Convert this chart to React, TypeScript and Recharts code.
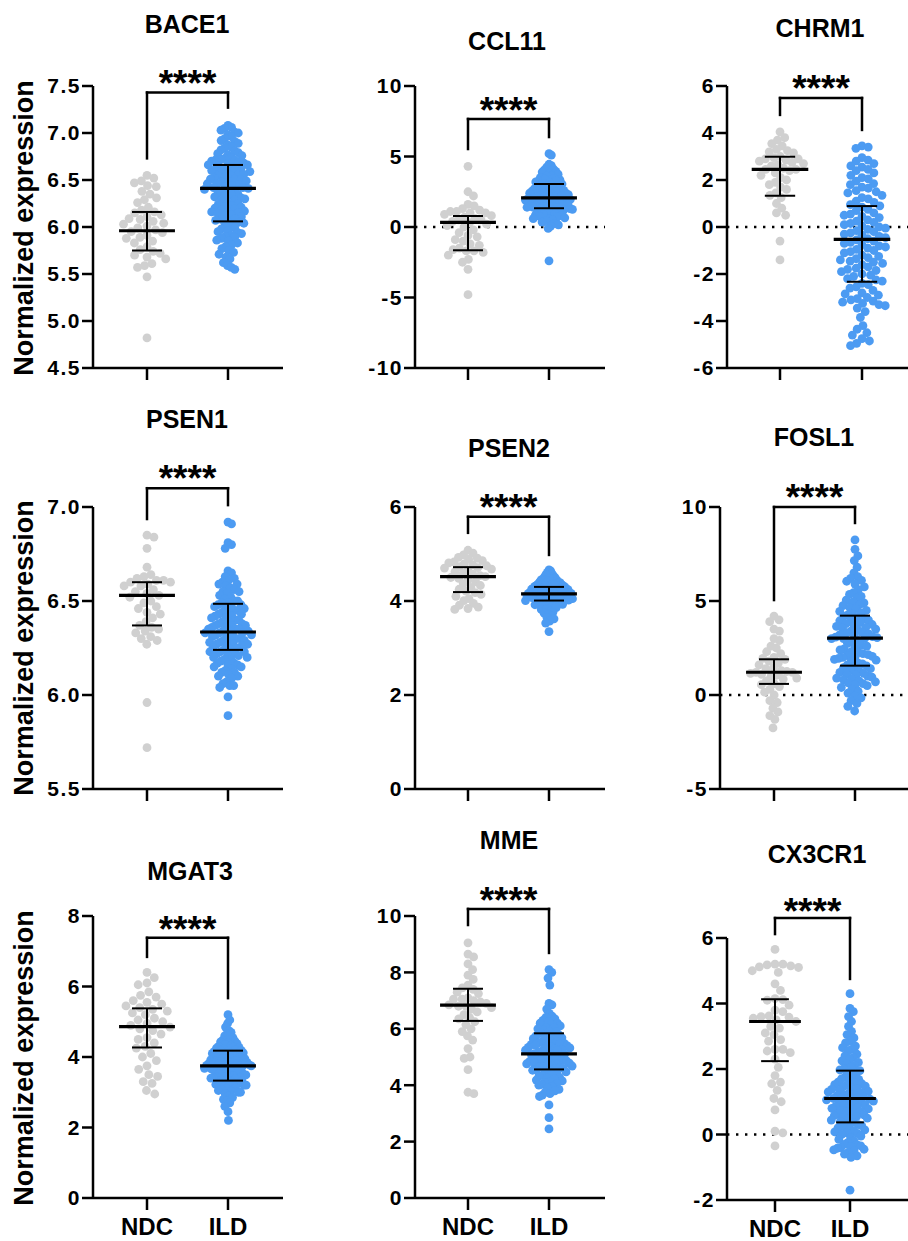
import React from "react";
import { ScatterChart, Scatter, XAxis, YAxis, ReferenceLine } from "recharts";

const FONT = "'Liberation Sans', Arial, Helvetica, sans-serif";
const GREY = "#d0d0d0";
const BLUE = "#4c9bf2";

const groups = ["NDC", "ILD"];

// ---- values ----
const bace1Ndc = [6.55, 6.52, 6.49, 6.47, 6.44, 6.43, 6.38, 6.35, 6.31, 6.29, 6.26, 6.21, 6.18, 6.16, 6.15, 6.13, 6.11, 6.09, 6.08, 6.06, 6.04, 6.03, 6.01, 5.99, 5.97, 5.95, 5.94, 5.91, 5.89, 5.88, 5.85, 5.83, 5.79, 5.76, 5.74, 5.72, 5.70, 5.68, 5.66, 5.61, 5.59, 5.57, 5.47, 4.82];
const bace1Ild = [7.08, 7.06, 7.05, 7.03, 7.01, 7.0, 6.98, 6.96, 6.94, 6.92, 6.91, 6.89, 6.87, 6.85, 6.84, 6.82, 6.81, 6.79, 6.78, 6.77, 6.76, 6.74, 6.73, 6.72, 6.71, 6.71, 6.7, 6.69, 6.68, 6.67, 6.66, 6.66, 6.65, 6.64, 6.63, 6.62, 6.61, 6.61, 6.6, 6.59, 6.58, 6.57, 6.56, 6.56, 6.55, 6.54, 6.53, 6.52, 6.51, 6.51, 6.5, 6.49, 6.48, 6.47, 6.46, 6.46, 6.45, 6.44, 6.43, 6.42, 6.42, 6.41, 6.4, 6.39, 6.38, 6.37, 6.36, 6.35, 6.34, 6.33, 6.32, 6.31, 6.3, 6.29, 6.28, 6.26, 6.25, 6.24, 6.23, 6.22, 6.21, 6.2, 6.19, 6.18, 6.17, 6.16, 6.16, 6.15, 6.14, 6.13, 6.12, 6.11, 6.09, 6.08, 6.07, 6.06, 6.05, 6.04, 6.02, 6.01, 5.99, 5.98, 5.96, 5.95, 5.94, 5.93, 5.91, 5.9, 5.89, 5.88, 5.86, 5.85, 5.83, 5.81, 5.79, 5.77, 5.75, 5.73, 5.71, 5.68, 5.66, 5.62, 5.59, 5.57, 5.55];

const ccl11Ndc = [4.3, 2.5, 2.2, 1.6, 1.5, 1.3, 1.2, 1.1, 1.1, 1.0, 1.0, 0.9, 0.8, 0.7, 0.6, 0.5, 0.5, 0.4, 0.3, 0.2, 0.1, 0.0, -0.2, -0.4, -0.6, -0.7, -0.9, -1.0, -1.2, -1.3, -1.5, -1.6, -1.7, -1.7, -1.8, -2.0, -2.3, -2.5, -3.0, -4.8];
const ccl11Ild = [5.2, 5.1, 4.45, 4.35, 4.25, 4.1, 4.05, 3.95, 3.9, 3.8, 3.75, 3.65, 3.6, 3.5, 3.45, 3.4, 3.35, 3.3, 3.25, 3.2, 3.15, 3.1, 3.05, 3.0, 2.95, 2.9, 2.85, 2.8, 2.75, 2.7, 2.7, 2.65, 2.6, 2.55, 2.5, 2.5, 2.45, 2.4, 2.4, 2.35, 2.3, 2.3, 2.25, 2.2, 2.2, 2.15, 2.1, 2.1, 2.05, 2.0, 1.95, 1.95, 1.9, 1.9, 1.85, 1.8, 1.8, 1.75, 1.7, 1.7, 1.65, 1.6, 1.6, 1.55, 1.5, 1.5, 1.45, 1.45, 1.4, 1.4, 1.35, 1.3, 1.3, 1.25, 1.2, 1.2, 1.15, 1.1, 1.05, 1.0, 0.95, 0.9, 0.85, 0.8, 0.75, 0.7, 0.65, 0.6, 0.55, 0.5, 0.45, 0.35, 0.25, 0.15, 0.05, -0.1, -2.4];

const chrm1Ndc = [4.05, 3.8, 3.7, 3.55, 3.45, 3.3, 3.25, 3.2, 3.15, 3.0, 2.95, 2.9, 2.9, 2.85, 2.8, 2.75, 2.7, 2.65, 2.6, 2.5, 2.45, 2.45, 2.4, 2.3, 2.2, 2.1, 2.0, 1.9, 1.8, 1.7, 1.6, 1.45, 1.35, 1.25, 1.0, 0.8, 0.6, 0.5, -0.6, -1.4];
const chrm1Ild = [3.45, 3.4, 3.35, 2.95, 2.85, 2.8, 2.7, 2.6, 2.55, 2.45, 2.4, 2.3, 2.2, 2.1, 2.05, 1.95, 1.85, 1.8, 1.7, 1.65, 1.55, 1.5, 1.45, 1.35, 1.25, 1.2, 1.1, 1.05, 0.95, 0.9, 0.85, 0.75, 0.7, 0.6, 0.55, 0.5, 0.45, 0.4, 0.3, 0.25, 0.2, 0.15, 0.1, 0.05, 0.0, -0.05, -0.1, -0.15, -0.2, -0.25, -0.3, -0.35, -0.4, -0.45, -0.5, -0.55, -0.6, -0.65, -0.7, -0.75, -0.8, -0.85, -0.9, -0.95, -1.0, -1.05, -1.1, -1.2, -1.25, -1.3, -1.35, -1.4, -1.45, -1.5, -1.55, -1.6, -1.7, -1.75, -1.8, -1.85, -1.9, -2.0, -2.05, -2.1, -2.2, -2.25, -2.3, -2.4, -2.45, -2.55, -2.6, -2.7, -2.8, -2.85, -2.9, -3.0, -3.05, -3.1, -3.15, -3.2, -3.25, -3.3, -3.35, -3.45, -3.6, -3.85, -4.2, -4.35, -4.5, -4.6, -4.75, -4.85, -4.95, -5.05];

const psen1Ndc = [6.85, 6.84, 6.78, 6.68, 6.64, 6.63, 6.62, 6.61, 6.61, 6.6, 6.6, 6.59, 6.58, 6.58, 6.56, 6.55, 6.54, 6.53, 6.52, 6.5, 6.49, 6.47, 6.46, 6.44, 6.43, 6.41, 6.39, 6.37, 6.36, 6.35, 6.34, 6.33, 6.31, 6.3, 6.29, 6.27, 5.96, 5.72];
const psen1Ild = [6.92, 6.91, 6.81, 6.8, 6.78, 6.66, 6.65, 6.63, 6.62, 6.61, 6.6, 6.59, 6.59, 6.58, 6.57, 6.56, 6.55, 6.55, 6.54, 6.53, 6.52, 6.51, 6.5, 6.5, 6.49, 6.49, 6.48, 6.48, 6.47, 6.47, 6.46, 6.46, 6.45, 6.45, 6.44, 6.44, 6.43, 6.43, 6.42, 6.42, 6.41, 6.41, 6.4, 6.4, 6.39, 6.39, 6.38, 6.38, 6.37, 6.37, 6.37, 6.36, 6.36, 6.35, 6.35, 6.35, 6.34, 6.34, 6.34, 6.33, 6.33, 6.33, 6.32, 6.32, 6.32, 6.31, 6.31, 6.3, 6.3, 6.29, 6.29, 6.29, 6.28, 6.28, 6.27, 6.27, 6.27, 6.26, 6.26, 6.25, 6.25, 6.24, 6.24, 6.23, 6.23, 6.23, 6.22, 6.22, 6.21, 6.21, 6.2, 6.2, 6.19, 6.19, 6.18, 6.17, 6.17, 6.16, 6.16, 6.15, 6.15, 6.14, 6.13, 6.12, 6.12, 6.11, 6.1, 6.1, 6.09, 6.07, 6.06, 6.05, 6.05, 6.04, 5.99, 5.89];

const psen2Ndc = [5.08, 5.02, 4.98, 4.93, 4.91, 4.89, 4.86, 4.83, 4.81, 4.79, 4.77, 4.75, 4.73, 4.71, 4.7, 4.68, 4.65, 4.62, 4.59, 4.57, 4.54, 4.52, 4.5, 4.48, 4.45, 4.41, 4.37, 4.33, 4.29, 4.25, 4.21, 4.18, 4.14, 4.1, 4.05, 4.01, 3.95, 3.91, 3.87, 3.84, 3.82];
const psen2Ild = [4.66, 4.64, 4.61, 4.58, 4.56, 4.53, 4.51, 4.49, 4.48, 4.46, 4.45, 4.44, 4.42, 4.41, 4.4, 4.39, 4.39, 4.38, 4.37, 4.36, 4.35, 4.34, 4.33, 4.33, 4.32, 4.31, 4.3, 4.29, 4.29, 4.28, 4.27, 4.27, 4.26, 4.25, 4.24, 4.24, 4.23, 4.22, 4.22, 4.21, 4.2, 4.19, 4.19, 4.18, 4.18, 4.17, 4.17, 4.16, 4.16, 4.15, 4.14, 4.14, 4.13, 4.12, 4.12, 4.11, 4.1, 4.09, 4.09, 4.08, 4.08, 4.07, 4.07, 4.06, 4.05, 4.05, 4.04, 4.03, 4.03, 4.02, 4.02, 4.01, 4.0, 3.99, 3.98, 3.97, 3.96, 3.95, 3.94, 3.93, 3.92, 3.91, 3.9, 3.88, 3.86, 3.84, 3.82, 3.81, 3.78, 3.76, 3.74, 3.71, 3.68, 3.65, 3.62, 3.57, 3.53, 3.35];

const fosl1Ndc = [4.2, 4.0, 3.9, 3.5, 3.4, 3.0, 2.9, 2.6, 2.5, 2.3, 2.2, 2.0, 1.95, 1.9, 1.8, 1.7, 1.6, 1.45, 1.4, 1.3, 1.25, 1.2, 1.2, 1.15, 1.1, 1.05, 1.0, 0.9, 0.85, 0.75, 0.6, 0.55, 0.45, 0.3, 0.15, 0.0, -0.3, -0.4, -0.7, -0.9, -1.1, -1.3, -1.75];
const fosl1Ild = [8.25, 7.75, 7.4, 7.15, 6.8, 6.5, 6.3, 6.2, 6.1, 6.05, 5.9, 5.75, 5.6, 5.45, 5.35, 5.25, 5.15, 5.05, 4.95, 4.9, 4.8, 4.75, 4.65, 4.6, 4.5, 4.45, 4.35, 4.3, 4.25, 4.2, 4.1, 4.05, 3.98, 3.95, 3.9, 3.85, 3.8, 3.75, 3.7, 3.65, 3.6, 3.55, 3.5, 3.45, 3.4, 3.35, 3.3, 3.25, 3.2, 3.15, 3.1, 3.08, 3.05, 3.02, 3.0, 3.0, 2.9, 2.8, 2.75, 2.65, 2.6, 2.5, 2.45, 2.4, 2.3, 2.25, 2.2, 2.15, 2.1, 2.05, 2.0, 2.0, 1.95, 1.9, 1.85, 1.8, 1.7, 1.65, 1.6, 1.55, 1.5, 1.45, 1.4, 1.3, 1.25, 1.2, 1.15, 1.1, 1.05, 1.0, 0.95, 0.9, 0.85, 0.8, 0.75, 0.7, 0.65, 0.6, 0.55, 0.5, 0.4, 0.3, 0.2, 0.1, -0.05, -0.15, -0.3, -0.45, -0.6, -0.85];

const mgat3Ndc = [6.4, 6.25, 6.1, 6.05, 5.85, 5.75, 5.7, 5.6, 5.55, 5.5, 5.45, 5.4, 5.35, 5.3, 5.25, 5.2, 5.1, 5.05, 5.0, 4.95, 4.9, 4.85, 4.8, 4.75, 4.65, 4.55, 4.5, 4.4, 4.3, 4.25, 4.1, 4.0, 3.9, 3.75, 3.65, 3.5, 3.45, 3.3, 3.25, 3.05, 2.95];
const mgat3Ild = [5.2, 5.05, 4.95, 4.85, 4.75, 4.7, 4.65, 4.6, 4.55, 4.5, 4.48, 4.45, 4.43, 4.4, 4.38, 4.35, 4.33, 4.3, 4.28, 4.27, 4.25, 4.23, 4.22, 4.2, 4.19, 4.17, 4.16, 4.14, 4.12, 4.1, 4.08, 4.07, 4.05, 4.04, 4.02, 4.0, 3.99, 3.98, 3.96, 3.95, 3.93, 3.92, 3.9, 3.89, 3.88, 3.86, 3.85, 3.84, 3.83, 3.82, 3.81, 3.8, 3.79, 3.78, 3.77, 3.76, 3.75, 3.74, 3.73, 3.72, 3.7, 3.69, 3.68, 3.66, 3.65, 3.63, 3.62, 3.6, 3.59, 3.57, 3.56, 3.54, 3.52, 3.5, 3.49, 3.47, 3.46, 3.44, 3.43, 3.42, 3.41, 3.4, 3.38, 3.36, 3.34, 3.32, 3.3, 3.28, 3.26, 3.24, 3.22, 3.2, 3.2, 3.2, 3.18, 3.15, 3.12, 3.1, 3.08, 3.05, 3.03, 3.0, 3.0, 2.95, 2.9, 2.85, 2.8, 2.75, 2.7, 2.6, 2.45, 2.2];

const mmeNdc = [9.05, 8.65, 8.55, 8.3, 8.1, 7.9, 7.75, 7.55, 7.45, 7.4, 7.3, 7.25, 7.1, 7.05, 7.05, 7.0, 6.95, 6.9, 6.85, 6.8, 6.8, 6.75, 6.7, 6.6, 6.5, 6.4, 6.35, 6.25, 6.15, 6.0, 5.9, 5.75, 5.6, 5.3, 5.0, 4.95, 4.55, 3.75, 3.7];
const mmeIld = [8.1, 8.0, 7.8, 7.55, 6.9, 6.85, 6.7, 6.55, 6.45, 6.4, 6.35, 6.3, 6.25, 6.2, 6.2, 6.15, 6.1, 6.05, 6.05, 6.0, 5.95, 5.9, 5.88, 5.85, 5.8, 5.78, 5.75, 5.7, 5.68, 5.65, 5.62, 5.6, 5.58, 5.55, 5.52, 5.5, 5.48, 5.46, 5.44, 5.42, 5.4, 5.38, 5.36, 5.34, 5.32, 5.3, 5.28, 5.26, 5.24, 5.22, 5.2, 5.18, 5.15, 5.12, 5.1, 5.08, 5.05, 5.02, 4.98, 4.96, 4.94, 4.92, 4.9, 4.88, 4.86, 4.84, 4.82, 4.8, 4.78, 4.76, 4.74, 4.72, 4.7, 4.68, 4.66, 4.64, 4.62, 4.6, 4.58, 4.55, 4.53, 4.5, 4.47, 4.44, 4.41, 4.38, 4.35, 4.32, 4.28, 4.25, 4.22, 4.18, 4.15, 4.12, 4.09, 4.06, 4.03, 4.0, 3.95, 3.9, 3.85, 3.8, 3.75, 3.7, 3.65, 3.6, 3.3, 2.85, 2.45];

const cx3cr1Ndc = [5.65, 5.2, 5.2, 5.18, 5.15, 5.12, 5.1, 5.0, 4.95, 4.6, 4.4, 4.15, 4.12, 4.1, 3.95, 3.8, 3.75, 3.62, 3.6, 3.58, 3.55, 3.5, 3.45, 3.3, 3.25, 3.1, 3.05, 2.9, 2.85, 2.6, 2.6, 2.55, 2.5, 2.3, 2.05, 1.8, 1.6, 1.55, 1.35, 1.1, 1.0, 0.75, 0.1, 0.05, -0.35];
const cx3cr1Ild = [4.3, 3.85, 3.75, 3.6, 3.45, 3.3, 3.15, 3.05, 2.95, 2.85, 2.8, 2.7, 2.65, 2.6, 2.55, 2.45, 2.4, 2.35, 2.3, 2.25, 2.2, 2.15, 2.1, 2.05, 2.0, 1.97, 1.95, 1.9, 1.85, 1.8, 1.75, 1.7, 1.68, 1.65, 1.6, 1.58, 1.55, 1.52, 1.5, 1.48, 1.45, 1.42, 1.4, 1.38, 1.35, 1.32, 1.3, 1.28, 1.25, 1.22, 1.2, 1.18, 1.15, 1.12, 1.1, 1.1, 1.08, 1.06, 1.04, 1.02, 1.0, 0.98, 0.95, 0.92, 0.9, 0.88, 0.85, 0.82, 0.8, 0.78, 0.75, 0.72, 0.7, 0.68, 0.65, 0.62, 0.6, 0.58, 0.55, 0.52, 0.5, 0.47, 0.44, 0.4, 0.37, 0.34, 0.3, 0.27, 0.24, 0.2, 0.17, 0.14, 0.1, 0.08, 0.05, 0.03, 0.0, -0.05, -0.1, -0.15, -0.2, -0.25, -0.3, -0.32, -0.35, -0.38, -0.4, -0.42, -0.45, -0.47, -0.5, -0.55, -0.6, -0.65, -0.7, -1.7];

// median with interquartile range: [q1, median, q3]
const bace1Stats = [[5.75, 5.96, 6.16], [6.06, 6.41, 6.66]];
const ccl11Stats = [[-1.65, 0.33, 0.78], [1.33, 2.07, 3.05]];
const chrm1Stats = [[1.33, 2.45, 2.99], [-2.33, -0.53, 0.89]];
const psen1Stats = [[6.37, 6.53, 6.6], [6.24, 6.335, 6.485]];
const psen2Stats = [[4.19, 4.52, 4.72], [4.01, 4.15, 4.3]];
const fosl1Stats = [[0.59, 1.21, 1.9], [1.56, 3.03, 4.22]];
const mgat3Stats = [[4.27, 4.86, 5.38], [3.33, 3.75, 4.18]];
const mmeStats = [[6.28, 6.84, 7.42], [4.56, 5.11, 5.84]];
const cx3cr1Stats = [[2.24, 3.45, 4.13], [0.37, 1.1, 1.95]];

const bace1Ticks = [4.5, 5, 5.5, 6, 6.5, 7, 7.5];
const ccl11Ticks = [-10, -5, 0, 5, 10];
const chrm1Ticks = [-6, -4, -2, 0, 2, 4, 6];
const psen1Ticks = [5.5, 6, 6.5, 7];
const psen2Ticks = [0, 2, 4, 6];
const fosl1Ticks = [-5, 0, 5, 10];
const mgat3Ticks = [0, 2, 4, 6, 8];
const mmeTicks = [0, 2, 4, 6, 8, 10];
const cx3cr1Ticks = [-2, 0, 2, 4, 6];

// ---- layout ----
// box: pixel frame of the plot area; bracket: [top, left leg end, right leg end] in data units
const panels = [
  { gene: "BACE1", ndc: bace1Ndc, ild: bace1Ild, stats: bace1Stats, ticks: bace1Ticks, dec: 1, zero: false, bracket: [7.43, 6.73, 7.27], box: { left: 93, top: 86, w: 190, h: 282, a: 54, b: 135 }, title: [187, 33], starGap: 18, showX: false },
  { gene: "CCL11", ndc: ccl11Ndc, ild: ccl11Ild, stats: ccl11Stats, ticks: ccl11Ticks, dec: 0, zero: true, bracket: [7.66, 5.53, 6.38], box: { left: 415, top: 86, w: 190, h: 282, a: 53, b: 134 }, title: [507, 50], starGap: 17, showX: false },
  { gene: "CHRM1", ndc: chrm1Ndc, ild: chrm1Ild, stats: chrm1Stats, ticks: chrm1Ticks, dec: 0, zero: true, bracket: [5.49, 4.77, 4.13], box: { left: 727, top: 86, w: 190, h: 282, a: 53, b: 135 }, title: [820, 37], starGap: 18, showX: false },
  { gene: "PSEN1", ndc: psen1Ndc, ild: psen1Ild, stats: psen1Stats, ticks: psen1Ticks, dec: 1, zero: false, bracket: [7.1, 6.936, 7.01], box: { left: 93, top: 507, w: 190, h: 282, a: 54, b: 135 }, title: [187, 428], starGap: 18, showX: false },
  { gene: "PSEN2", ndc: psen2Ndc, ild: psen2Ild, stats: psen2Stats, ticks: psen2Ticks, dec: 0, zero: false, bracket: [5.79, 5.45, 4.98], box: { left: 415, top: 507, w: 190, h: 282, a: 53, b: 134 }, title: [509, 457], starGap: 18, showX: false },
  { gene: "FOSL1", ndc: fosl1Ndc, ild: fosl1Ild, stats: fosl1Stats, ticks: fosl1Ticks, dec: 0, zero: true, bracket: [10, 5.05, 9.15], box: { left: 720, top: 507, w: 190, h: 282, a: 54, b: 135 }, title: [814, 446], starGap: 18, showX: false },
  { gene: "MGAT3", ndc: mgat3Ndc, ild: mgat3Ild, stats: mgat3Stats, ticks: mgat3Ticks, dec: 0, zero: false, bracket: [7.38, 6.84, 5.67], box: { left: 93, top: 916, w: 190, h: 282, a: 54, b: 135 }, title: [190, 880], starGap: 17, showX: true },
  { gene: "MME", ndc: mmeNdc, ild: mmeIld, stats: mmeStats, ticks: mmeTicks, dec: 0, zero: false, bracket: [10.25, 9.68, 8.69], box: { left: 415, top: 916, w: 190, h: 282, a: 53, b: 134 }, title: [509, 849], starGap: 17, showX: true },
  { gene: "CX3CR1", ndc: cx3cr1Ndc, ild: cx3cr1Ild, stats: cx3cr1Stats, ticks: cx3cr1Ticks, dec: 0, zero: true, bracket: [6.61, 6.12, 4.75], box: { left: 727, top: 938, w: 181, h: 262, a: 48, b: 123 }, title: [817, 863], starGap: 15, showX: true },
];

const yLabelRows = [228, 648, 1058];

const DOT_R = 4.4;
const SWARM_D = 9;
const SWARM_MAX = 23.5;

// beeswarm offsets (px) so that dots sit side by side
function swarm(values: number[], pxPerUnit: number): number[] {
  const pts = values.map((v, i) => ({ i, y: v * pxPerUnit, x: 0 }));
  const order = [...pts].sort((p, q) => q.y - p.y);
  const placed: { x: number; y: number }[] = [];
  const d2 = SWARM_D * SWARM_D;
  for (const p of order) {
    const near = placed.filter((q) => Math.abs(q.y - p.y) < SWARM_D);
    const cands = [0];
    near.forEach((q) => {
      const dx = Math.sqrt(d2 - (q.y - p.y) ** 2);
      cands.push(q.x + dx, q.x - dx);
    });
    cands.sort((u, v) => Math.abs(u) - Math.abs(v));
    let best = 0;
    for (const c of cands) {
      if (near.every((q) => (q.x - c) ** 2 + (q.y - p.y) ** 2 >= d2 - 0.01)) {
        best = c;
        break;
      }
    }
    p.x = best;
    placed.push(p);
  }
  const maxAbs = Math.max(1e-6, ...pts.map((p) => Math.abs(p.x)));
  const k = Math.min(1, SWARM_MAX / maxAbs);
  return pts.map((p) => p.x * k);
}

const line = { stroke: "#000", strokeWidth: 2.5 };

function Panel({ p }: { p: (typeof panels)[number] }) {
  const { box } = p;
  const lo = p.ticks[0];
  const hi = p.ticks[p.ticks.length - 1];
  const pxY = box.h / (hi - lo);
  const unit = box.b - box.a;
  const xDomain = [1 - box.a / unit, 1 + (box.w - box.a) / unit];
  const series = [p.ndc, p.ild].map((vals, g) => {
    const off = swarm(vals, pxY);
    return vals.map((v, i) => ({ x: g + 1 + off[i] / unit, y: v }));
  });
  const whiskers = p.stats.map(([q1, , q3], g) => [
    { x: g + 1, y: q1 },
    { x: g + 1, y: q3 },
  ]);
  const medians = p.stats.map(([, med], g) => ({ x: g + 1, y: med }));
  const ML = 70, MT = 110, MB = 60, MR = 10;
  const medHalf = 0.345 * unit;
  const capHalf = 0.185 * unit;
  const [top, leftEnd, rightEnd] = p.bracket;

  const stars = (lp: any) => {
    const vb = lp && lp.viewBox ? lp.viewBox : { x: 0, y: 0, width: 0 };
    return (
      <text x={vb.x + (vb.width || 0) / 2} y={vb.y - p.starGap + 21} textAnchor="middle" fontSize={37} fontWeight={700} fontFamily={FONT} fill="#000">
        ****
      </text>
    );
  };

  return (
    <div style={{ position: "absolute", left: box.left - ML, top: box.top - MT }}>
      <ScatterChart width={ML + box.w + MR} height={MT + box.h + MB} margin={{ top: MT, right: MR, bottom: 0, left: 0 }}>
        <XAxis
          type="number"
          dataKey="x"
          domain={xDomain}
          allowDataOverflow
          ticks={[1, 2]}
          height={MB}
          axisLine={line}
          tickLine={line}
          tickSize={12}
          tickMargin={8}
          tickFormatter={(v: number) => (p.showX ? groups[Math.round(v) - 1] : "")}
          tick={{ fontSize: 24, fontWeight: 700, fill: "#000", fontFamily: FONT }}
        />
        <YAxis
          type="number"
          dataKey="y"
          domain={[lo, hi]}
          allowDataOverflow
          ticks={p.ticks}
          width={ML}
          axisLine={line}
          tickLine={line}
          tickSize={11}
          tickMargin={1}
          tickFormatter={(v: number) => v.toFixed(p.dec)}
          tick={{ fontSize: 21, fontWeight: 700, fill: "#000", fontFamily: FONT, letterSpacing: 1.5 }}
        />
        {p.zero && <ReferenceLine y={0} stroke="#000" strokeWidth={2.4} strokeDasharray="2.4 6.6" />}
        <Scatter data={series[0]} fill={GREY} isAnimationActive={false} shape={(s: any) => <circle cx={s.cx} cy={s.cy} r={DOT_R} fill={GREY} />} />
        <Scatter data={series[1]} fill={BLUE} isAnimationActive={false} shape={(s: any) => <circle cx={s.cx} cy={s.cy} r={DOT_R} fill={BLUE} />} />
        {whiskers.map((w, g) => (
          <Scatter
            key={`w${g}`}
            data={w}
            isAnimationActive={false}
            line={{ stroke: "#000", strokeWidth: 2 }}
            lineType="joint"
            shape={(s: any) => <line x1={s.cx - capHalf} x2={s.cx + capHalf} y1={s.cy} y2={s.cy} stroke="#000" strokeWidth={2} />}
          />
        ))}
        <Scatter
          data={medians}
          isAnimationActive={false}
          shape={(s: any) => <line x1={s.cx - medHalf} x2={s.cx + medHalf} y1={s.cy} y2={s.cy} stroke="#000" strokeWidth={3.2} />}
        />
        <ReferenceLine segment={[{ x: 1, y: top }, { x: 2, y: top }]} stroke="#000" strokeWidth={2.5} strokeLinecap="square" ifOverflow="visible" label={stars} />
        <ReferenceLine segment={[{ x: 1, y: top }, { x: 1, y: leftEnd }]} stroke="#000" strokeWidth={2.5} strokeLinecap="square" ifOverflow="visible" />
        <ReferenceLine segment={[{ x: 2, y: top }, { x: 2, y: rightEnd }]} stroke="#000" strokeWidth={2.5} strokeLinecap="square" ifOverflow="visible" />
      </ScatterChart>
    </div>
  );
}

export default function App() {
  return (
    <div style={{ position: "absolute", left: 0, top: 0, width: 908, height: 1241, overflow: "hidden", background: "#fff", fontFamily: FONT }}>
      {panels.map((p) => (
        <Panel key={p.gene} p={p} />
      ))}
      <svg width={908} height={1241} style={{ position: "absolute", left: 0, top: 0, pointerEvents: "none" }}>
        {panels.map((p) => (
          <text key={p.gene} x={p.title[0]} y={p.title[1]} textAnchor="middle" fontSize={25} fontWeight={700} fontFamily={FONT} fill="#000">
            {p.gene}
          </text>
        ))}
        {yLabelRows.map((cy) => (
          <text key={cy} transform="rotate(-90)" x={-cy} y={33} textAnchor="middle" fontSize={27} fontWeight={700} fontFamily={FONT} fill="#000">
            Normalized expression
          </text>
        ))}
      </svg>
    </div>
  );
}
